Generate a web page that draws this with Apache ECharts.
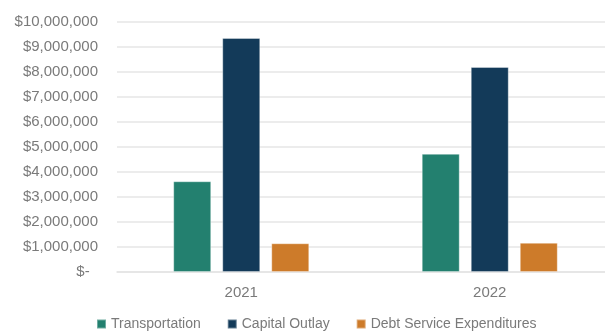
<!DOCTYPE html>
<html>
<head>
<meta charset="utf-8">
<script src="https://cdn.jsdelivr.net/npm/echarts@6/dist/echarts.min.js"></script>
<style>
  html, body { margin: 0; padding: 0; background: #fff; overflow: hidden; }
  #chart { width: 614px; height: 333px; }
</style>
</head>
<body>
<div id="chart"></div>
<script>
// Fiscal years shown on the category axis
const years = ['2021', '2022'];

// Expenditures by category, in dollars
const transportation = [3630000, 4730000];
const capitalOutlay = [9360000, 8200000];
const debtService = [1150000, 1170000];

const seriesNames = ['Transportation', 'Capital Outlay', 'Debt Service Expenditures'];
const seriesColors = ['#23806f', '#133a59', '#cd7b2a'];

function money(v) {
  if (v === 0) return '$-  ';
  return '$' + v.toLocaleString('en-US');
}

const textColor = '#7a7a7a';
const fontFamily = '"Liberation Sans", Arial, sans-serif';

const chart = echarts.init(document.getElementById('chart'), null, { renderer: 'canvas' });

const dataSets = [transportation, capitalOutlay, debtService];

chart.setOption({
  animation: false,
  textStyle: { fontFamily: fontFamily },
  grid: { left: 117, top: 22, right: 0, height: 250, containLabel: false },
  legend: {
    top: 317,
    left: 96,
    padding: 0,
    icon: 'rect',
    itemWidth: 9,
    itemHeight: 9,
    itemGap: 26,
    textStyle: { color: textColor, fontSize: 14, fontFamily: fontFamily },
    data: seriesNames
  },
  xAxis: {
    type: 'category',
    data: years,
    axisTick: { show: false },
    axisLine: { show: true, lineStyle: { color: '#e3e3e3', width: 1.5 } },
    axisLabel: { color: textColor, fontSize: 15, margin: 13 }
  },
  yAxis: {
    type: 'value',
    min: 0,
    max: 10000000,
    interval: 1000000,
    axisLine: { show: false },
    axisTick: { show: false },
    splitLine: { lineStyle: { color: '#e6e6e6', width: 1.5 } },
    axisLabel: { color: textColor, fontSize: 15, margin: 19, formatter: money }
  },
  series: seriesNames.map((name, i) => ({
    name: name,
    type: 'bar',
    data: dataSets[i],
    barWidth: 38,
    barGap: '29%',
    itemStyle: {
      color: seriesColors[i],
      borderColor: 'rgba(255,255,255,0.35)',
      borderWidth: 1
    }
  }))
});
</script>
</body>
</html>
